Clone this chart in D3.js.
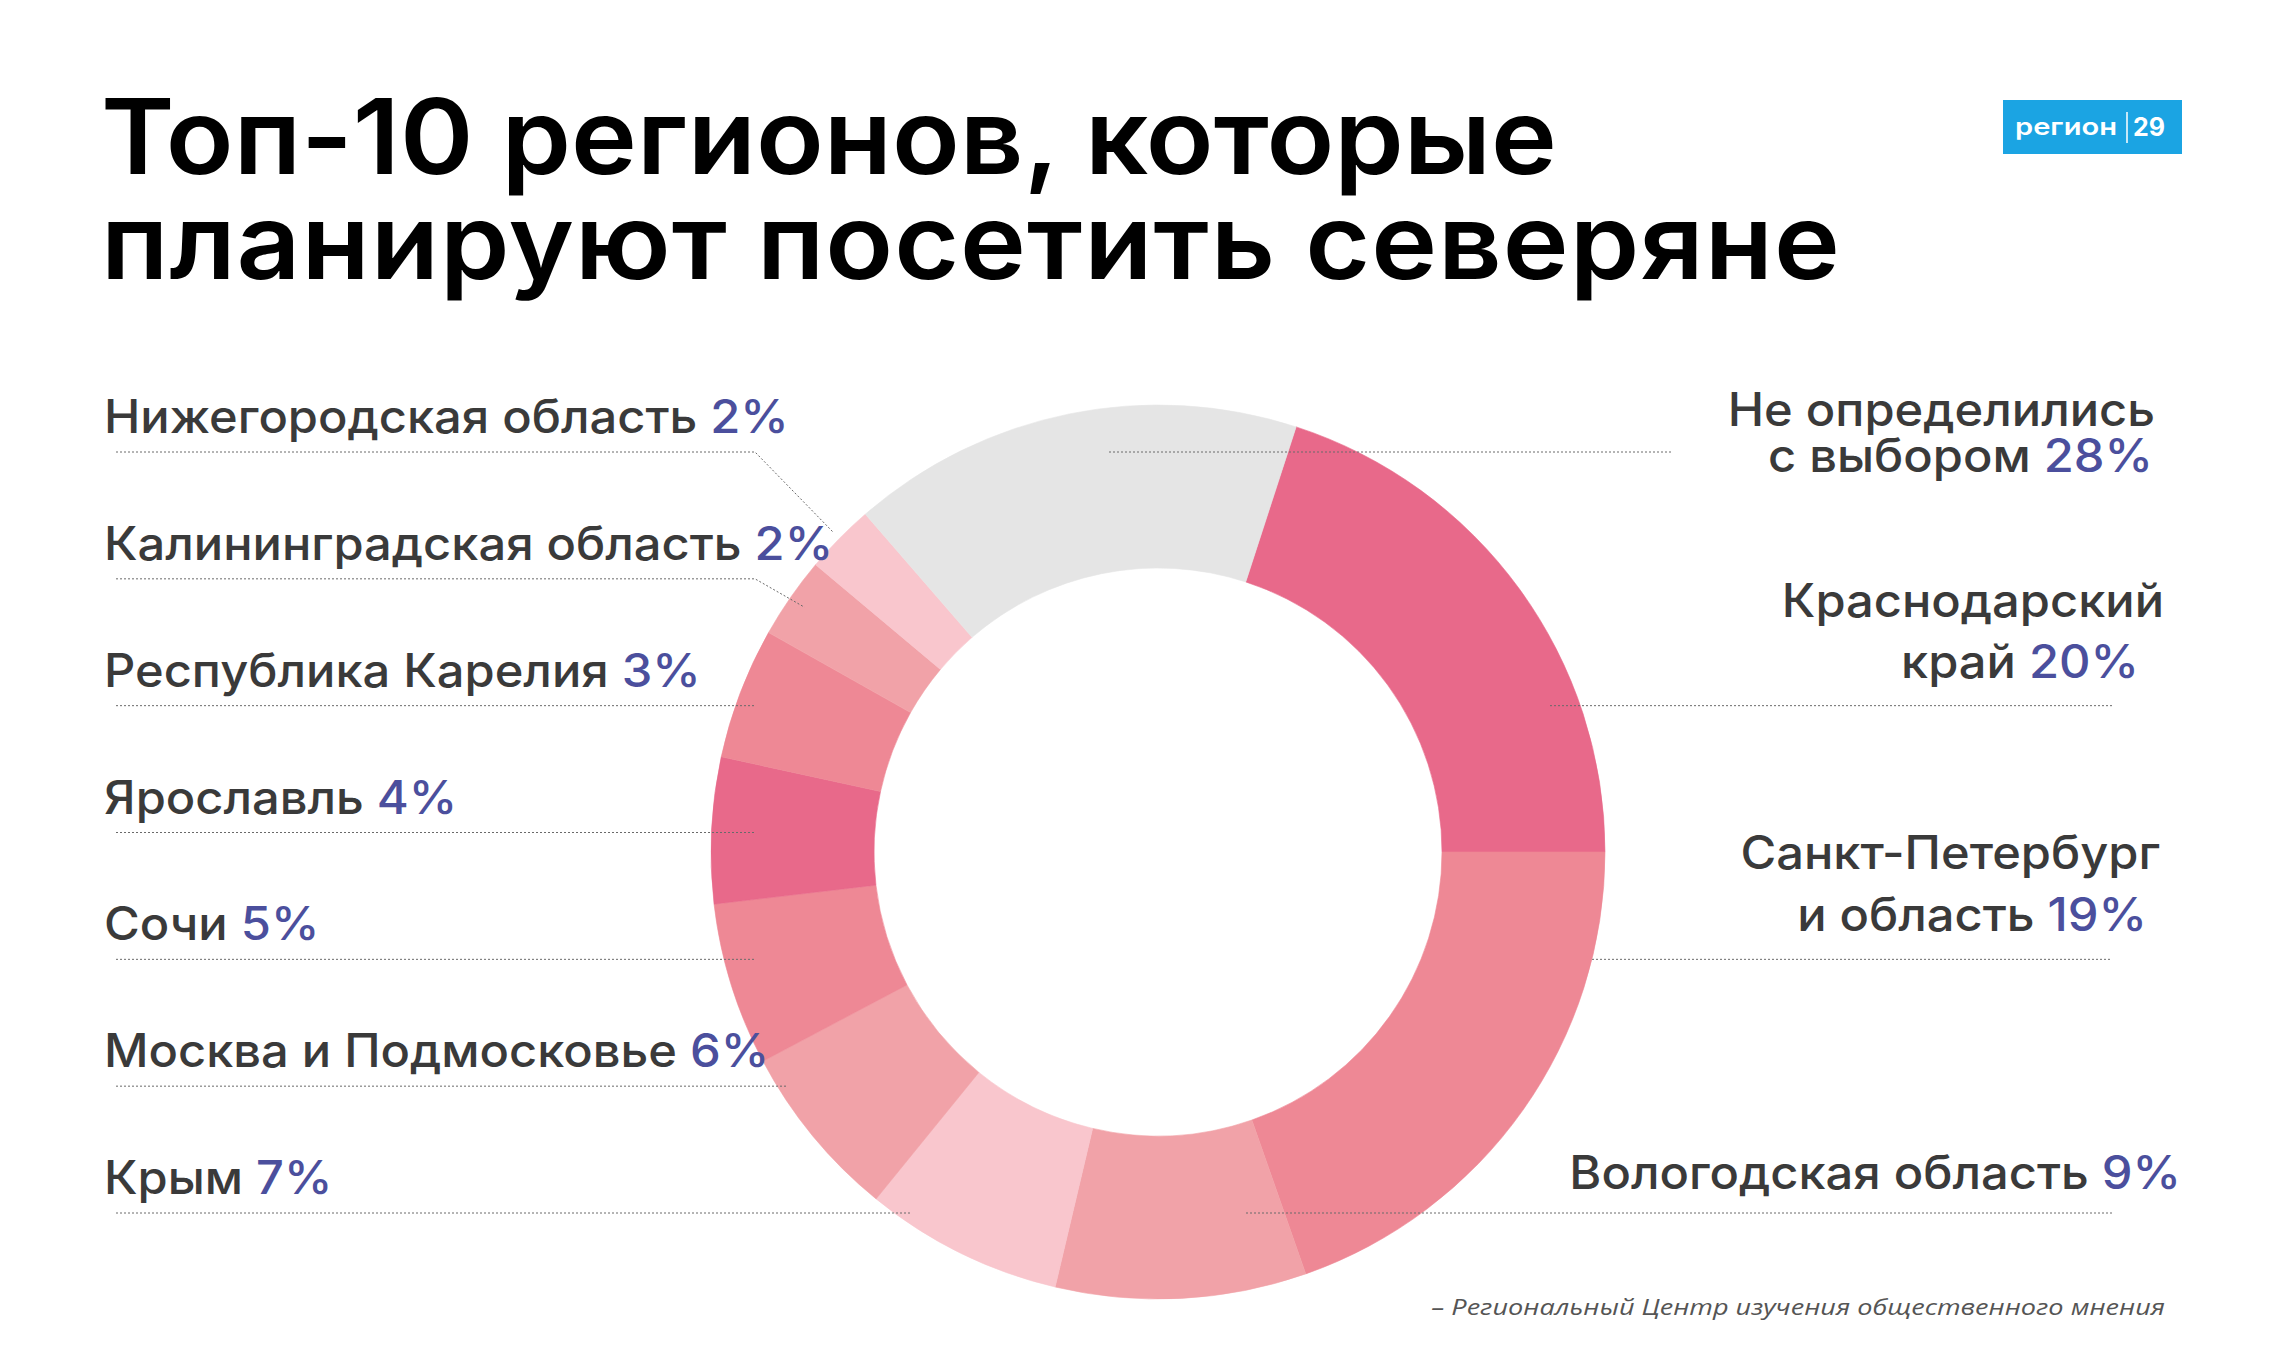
<!DOCTYPE html>
<html>
<head>
<meta charset="utf-8">
<script src="https://cdn.jsdelivr.net/npm/d3@7"></script>
<style>
  html, body { margin: 0; padding: 0; background: #ffffff; }
  svg { display: block; }
</style>
</head>
<body>
<svg id="chart" width="2280" height="1370"></svg>
<script>
// ---------------- DATA ----------------
const categories = [
  "Краснодарский край",
  "Санкт-Петербург и область",
  "Вологодская область",
  "Крым",
  "Москва и Подмосковье",
  "Сочи",
  "Ярославль",
  "Республика Карелия",
  "Калининградская область",
  "Нижегородская область",
  "Не определились с выбором"
];
// percentages printed in the labels
const percents = [20, 19, 9, 7, 6, 5, 4, 3, 2, 2, 28];
// angular size of each ring segment as drawn in the picture (degrees)
const drawnSweep = [72, 70.7, 32.6, 25.8, 23, 21.2, 19, 17.1, 10.6, 9.1, 58.9];
const sliceColors = ["#e8698a", "#ee8895", "#f1a2a8", "#f9c6cd", "#f1a2a8",
                     "#ee8895", "#e8698a", "#ee8895", "#f1a2a8", "#f9c6cd", "#e5e5e5"];
const titleLines = ["Топ-10 регионов, которые", "планируют посетить северяне"];
// rows on the left, top to bottom (indexes into categories)
const leftOrder = [9, 8, 7, 6, 5, 4, 3];
// labels on the right (indexes into categories) with their line breaks
const rightOrder = [10, 0, 1, 2];
const rightLines = [
  ["Не определились", "с выбором"],
  ["Краснодарский", "край"],
  ["Санкт-Петербург", "и область"],
  ["Вологодская область"]
];
const sourceText = "– Региональный Центр изучения общественного мнения";
const logoText = ["регион", "29"];

// ---------------- LAYOUT ----------------
const svg = d3.select("#chart");
const cx = 1158, cy = 852, R = 447, r0 = 284;
const deg = Math.PI / 180;
const startDeg = 18;
const textColor = "#3a3a3a";
const pctColor = "#4b4f9d";
const lineColor = "#6a6a6a";
const labelFont = "Inter, 'Open Sans', 'Noto Sans', sans-serif";

svg.append("rect").attr("width", 2280).attr("height", 1370).attr("fill", "#fff");

// ---------------- TITLE (one text, two lines) ----------------
const title = svg.append("text")
  .attr("font-family", labelFont)
  .attr("font-weight", 600)
  .attr("font-size", 105)
  .attr("fill", "#000");
const tspans = title.selectAll("tspan").data(titleLines).join("tspan")
  .attr("x", 0)
  .attr("y", (d, i) => i * 105)
  .text(d => d);
const tW1 = tspans.nodes()[0].getComputedTextLength();
const tW2 = tspans.nodes()[1].getComputedTextLength();
const kTitle = 1456 / tW1;
const extra2 = (1739 / kTitle - tW2) / (titleLines[1].length - 1);
tspans.filter((d, i) => i === 1).attr("letter-spacing", extra2);
title.attr("transform", `translate(101,174) scale(${kTitle},1)`);

// ---------------- LOGO ----------------
const logo = svg.append("g");
logo.append("rect").attr("x", 2003).attr("y", 100).attr("width", 179).attr("height", 54).attr("fill", "#1ba4e3");
const lt1 = logo.append("text").attr("font-family", labelFont).attr("font-weight", 600)
  .attr("font-size", 24).attr("fill", "#fff").text(logoText[0]);
lt1.attr("transform", `translate(2015,135) scale(${102 / lt1.node().getComputedTextLength()},1)`);
logo.append("line").attr("x1", 2127).attr("x2", 2127).attr("y1", 112).attr("y2", 143)
  .attr("stroke", "#fff").attr("stroke-width", 1.5);
const lt2 = logo.append("text").attr("font-family", labelFont).attr("font-weight", 700)
  .attr("font-size", 25).attr("fill", "#fff").text(logoText[1]);
lt2.attr("transform", `translate(2133,136) scale(${32 / lt2.node().getComputedTextLength()},1)`);

// ---------------- DONUT ----------------
const items = categories.map((c, i) => ({
  name: c, pct: percents[i], sweep: drawnSweep[i], color: sliceColors[i], i
}));
const pie = d3.pie().sort(null).value(d => d.sweep)
  .startAngle(startDeg * deg).endAngle(startDeg * deg + 2 * Math.PI);
const arcs = pie(items);
const arc = d3.arc().innerRadius(r0).outerRadius(R);
const donut = svg.append("g").attr("transform", `translate(${cx},${cy})`);
donut.selectAll("path").data(arcs).join("path")
  .attr("d", arc)
  .attr("fill", d => d.data.color)
  .attr("stroke", d => d.data.color)
  .attr("stroke-width", 0.6);

// ---------------- ROWS / LEADERS ----------------
const rowY = d3.scalePoint().domain(d3.range(leftOrder.length)).range([452, 1213]);
const leaders = svg.append("g")
  .attr("fill", "none").attr("stroke", lineColor).attr("stroke-width", 1)
  .attr("stroke-dasharray", "2,2");

const leftStartX = 116, leftMinEnd = 755, hitR = 438;
const elbowR = [455, 430];
leftOrder.forEach((idx, k) => {
  const y = rowY(k);
  const dy = y - cy;
  let pts;
  if (k < 2) {
    const a = arcs[idx];
    const mid = (a.startAngle + a.endAngle) / 2;
    const ex = cx + elbowR[k] * Math.sin(mid);
    const ey = cy - elbowR[k] * Math.cos(mid);
    pts = [[leftStartX, y], [leftMinEnd, y], [ex, ey]];
  } else {
    const xHit = cx - Math.sqrt(Math.max(0, hitR * hitR - dy * dy));
    pts = [[leftStartX, y], [Math.max(leftMinEnd, xHit), y]];
  }
  leaders.append("path").attr("d", d3.line()(pts));
});

const rightRows = [0, 2, 4, 6];
const rightLeaderX = [1109, 1550, 1592, 1246];
const rightLeaderEnd = [1672, 2112, 2112, 2112];
rightOrder.forEach((idx, k) => {
  const y = rowY(rightRows[k]);
  leaders.append("path").attr("d", d3.line()([[rightLeaderX[k], y], [rightLeaderEnd[k], y]]));
});

// ---------------- LABELS ----------------
const labelsG = svg.append("g")
  .attr("font-family", labelFont).attr("font-weight", 500).attr("font-size", 46);

// stretch factor from the first left label (Nizhny ~685px wide in the reference)
const leftTexts = leftOrder.map(idx => {
  const t = labelsG.append("text").attr("text-anchor", "start");
  t.append("tspan").attr("fill", textColor).text(categories[idx] + " ");
  t.append("tspan").attr("fill", pctColor).text(percents[idx] + "%");
  return t;
});
const kLabel = 685 / leftTexts[0].node().getComputedTextLength();
const leftBaseOffset = -19;
leftTexts.forEach((t, k) => {
  t.attr("transform", `translate(104,${rowY(k) + leftBaseOffset}) scale(${kLabel},1)`);
});

const rightEndX = [[2155, 2153], [2164, 2139], [2160, 2147], [2181]];
const rightOffsets = [[-26, 20], [-89, -28], [-90, -28], [-24]];
rightOrder.forEach((idx, k) => {
  const lines = rightLines[k];
  const x0 = rightEndX[k][0];
  const y0 = rowY(rightRows[k]) + rightOffsets[k][0];
  const t = labelsG.append("text").attr("text-anchor", "end")
    .attr("transform", `translate(${x0},${y0}) scale(${kLabel},1)`);
  lines.forEach((ln, j) => {
    const last = j === lines.length - 1;
    const line = t.append("tspan")
      .attr("x", (rightEndX[k][j] - x0) / kLabel)
      .attr("y", rightOffsets[k][j] - rightOffsets[k][0]);
    line.append("tspan").attr("fill", textColor).text(last ? ln + " " : ln);
    if (last) line.append("tspan").attr("fill", pctColor).text(percents[idx] + "%");
  });
});

// ---------------- SOURCE ----------------
const src = svg.append("text")
  .attr("font-family", "'Open Sans', Lato, sans-serif")
  .attr("font-style", "italic")
  .attr("font-size", 22)
  .attr("fill", "#555")
  .attr("text-anchor", "end")
  .text(sourceText);
src.attr("transform", `translate(2165,1315) scale(${734 / src.node().getComputedTextLength()},1)`);
</script>
</body>
</html>
